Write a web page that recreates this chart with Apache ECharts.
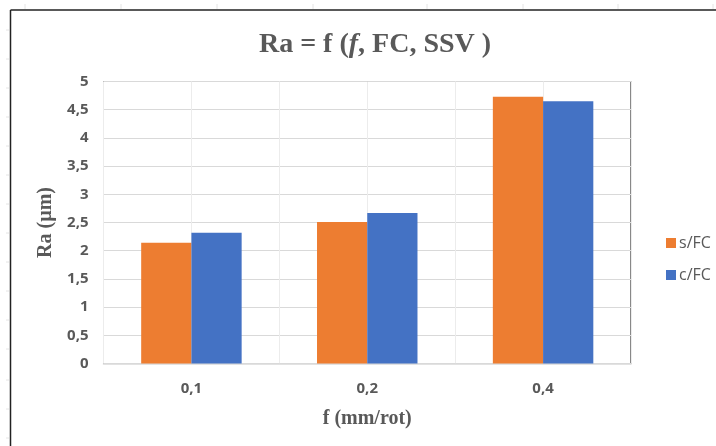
<!DOCTYPE html>
<html>
<head>
<meta charset="utf-8">
<script src="https://cdn.jsdelivr.net/npm/echarts@6/dist/echarts.min.js"></script>
<style>html,body{margin:0;padding:0;background:#fff;}#c{width:716px;height:446px;}</style>
</head>
<body>
<div id="c"></div>
<script>
var categories = ['0,1', '0,2', '0,4'];
var seriesNames = ['s/FC', 'c/FC'];
var sFC = [2.14, 2.51, 4.73];
var cFC = [2.32, 2.67, 4.65];
var yTicks = [0, 0.5, 1, 1.5, 2, 2.5, 3, 3.5, 4, 4.5, 5];

var txt = '#595959';
var chart = echarts.init(document.getElementById('c'), null, {renderer: 'canvas'});

var graphics = [
  {type: 'line', shape: {x1: 10.5, y1: 10, x2: 716, y2: 10}, style: {stroke: '#222', lineWidth: 1.5}, silent: true},
  {type: 'line', shape: {x1: 10.5, y1: 10, x2: 10.5, y2: 446}, style: {stroke: '#222', lineWidth: 1.5}, silent: true}
];
[25, 121, 217, 313, 427, 523, 618, 713].forEach(function (x) {
  graphics.push({type: 'line', shape: {x1: x, y1: 4, x2: x, y2: 9}, style: {stroke: '#e4e4e4', lineWidth: 1}, silent: true});
});
[30, 59, 88, 117, 146, 175, 204, 233, 262, 291, 320, 349, 380, 409, 438].forEach(function (y) {
  graphics.push({type: 'line', shape: {x1: 6, y1: y, x2: 9, y2: y}, style: {stroke: '#e4e4e4', lineWidth: 1}, silent: true});
});

chart.setOption({
  animation: false,
  backgroundColor: '#fff',
  graphic: graphics,
  title: {
    text: '{a|Ra = f (}{b|f}{a|, FC, SSV )}',
    left: 370,
    top: 26,
    textAlign: 'center',
    textStyle: {
      rich: {
        a: {fontFamily: 'Liberation Serif', fontWeight: 'bold', fontSize: 28, color: txt},
        b: {fontFamily: 'Liberation Serif', fontWeight: 'bold', fontStyle: 'italic', fontSize: 28, color: txt}
      }
    }
  },
  legend: {
    orient: 'vertical',
    left: 661,
    top: 230,
    itemWidth: 10,
    itemHeight: 10,
    itemGap: 16,
    icon: 'rect',
    data: seriesNames,
    textStyle: {fontFamily: 'Open Sans', fontSize: 16, color: txt, padding: [0, 0, 0, -2]}
  },
  grid: {
    left: 103.5,
    right: 85,
    top: 81.5,
    bottom: 82.5,
    show: true,
    borderColor: '#111',
    borderWidth: 1
  },
  xAxis: [{
    type: 'category',
    data: categories,
    name: 'f (mm/rot)',
    nameLocation: 'middle',
    nameGap: 45,
    nameTextStyle: {fontFamily: 'Liberation Serif', fontWeight: 'bold', fontSize: 20, color: txt},
    axisLine: {lineStyle: {color: '#d9d9d9', width: 1.5}},
    axisTick: {show: false},
    axisLabel: {margin: 18, fontFamily: 'Open Sans', fontWeight: 'bold', fontSize: 15, color: txt},
    splitLine: {show: false}
  }, {
    type: 'value',
    min: 0,
    max: 6,
    interval: 1,
    position: 'bottom',
    axisLine: {show: false},
    axisTick: {show: false},
    axisLabel: {show: false},
    splitLine: {show: true, lineStyle: {color: '#ececec', width: 1}}
  }],
  yAxis: {
    type: 'value',
    min: yTicks[0],
    max: yTicks[yTicks.length - 1],
    interval: yTicks[1] - yTicks[0],
    name: 'Ra (µm)',
    nameLocation: 'middle',
    nameGap: 45,
    nameTextStyle: {fontFamily: 'Liberation Serif', fontWeight: 'bold', fontSize: 20, color: txt},
    axisLine: {show: false},
    axisTick: {show: false},
    axisLabel: {
      margin: 15,
      fontFamily: 'Open Sans', fontWeight: 'bold', fontSize: 15, color: txt,
      formatter: function (v) { return String(v).replace('.', ','); }
    },
    splitLine: {lineStyle: {color: '#d9d9d9', width: 1}}
  },
  series: [{
    name: seriesNames[0],
    type: 'bar',
    data: sFC,
    barGap: '0%',
    barCategoryGap: '42.86%',
    itemStyle: {color: '#ED7D31'}
  }, {
    name: seriesNames[1],
    type: 'bar',
    data: cFC,
    barGap: '0%',
    barCategoryGap: '42.86%',
    itemStyle: {color: '#4472C4'}
  }]
});
</script>
</body>
</html>
